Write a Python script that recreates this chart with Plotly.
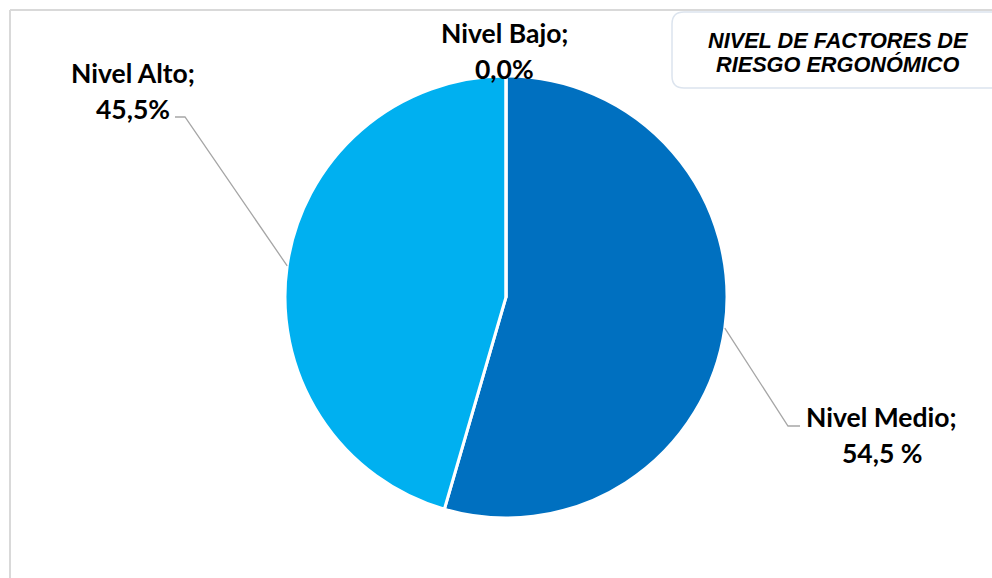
import math
import plotly.graph_objects as go

categories = ["Nivel Medio", "Nivel Alto", "Nivel Bajo"]
values = [54.5, 45.5, 0.0]
value_labels = ["54,5 %", "45,5%", "0,0%"]
colors = ["#0070C0", "#00B0F0", "#A5A5A5"]
title_lines = ["NIVEL DE FACTORES DE", "RIESGO ERGONÓMICO"]

W, H = 992, 578
cx, cy, R = 506, 297, 221  # pie geometry in page pixels

def fx(x):
    return x / W

def fy(y):
    return 1 - y / H

fig = go.Figure(go.Pie(
    labels=categories, values=values, sort=False, direction="clockwise",
    rotation=0, textinfo="none", hoverinfo="label+percent",
    marker=dict(colors=colors, line=dict(color="white", width=3)),
    domain=dict(x=[fx(cx - R), fx(cx + R)], y=[fy(cy + R), fy(cy - R)]),
    showlegend=False,
))

# Leader line start points at slice mid angles (derived from values)
total = sum(values)
cum = 0
mids = []
for v in values:
    mids.append((cum + v / 2) / total * 2 * math.pi)
    cum += v

def edge(theta):
    return cx + R * math.sin(theta), cy - R * math.cos(theta)

shapes = []
layout_pos = {
    "Nivel Medio": dict(l1=(881, 417), l2=(882, 453), elbow=(788, 426), end=(800, 426)),
    "Nivel Alto": dict(l1=(133, 73), l2=(133, 109), elbow=(185, 117), end=(175, 117)),
    "Nivel Bajo": dict(l1=(505, 33), l2=(504, 69), elbow=None, end=None),
}
annotations = []
font = dict(family="Lato, Carlito, sans-serif", size=26.5, color="black")
for cat, vl, th in zip(categories, value_labels, mids):
    p = layout_pos[cat]
    if p["elbow"] is not None:
        sx, sy = edge(th)
        shapes.append(dict(type="path", xref="x", yref="y",
                           path=f"M {sx},{sy} L {p['elbow'][0]},{p['elbow'][1]} L {p['end'][0]},{p['end'][1]}",
                           line=dict(color="#A6A6A6", width=1.3)))
    annotations.append(dict(x=p["l1"][0], y=p["l1"][1], xref="x", yref="y",
                            text=f"<b>{cat};</b>", showarrow=False, font=font,
                            xanchor="center", yanchor="middle"))
    annotations.append(dict(x=p["l2"][0], y=p["l2"][1], xref="x", yref="y",
                            text=f"<b>{vl}</b>", showarrow=False, font=font,
                            xanchor="center", yanchor="middle"))

# frame lines
shapes.append(dict(type="line", xref="x", yref="y", x0=10, y0=10, x1=10, y1=H + 5,
                   line=dict(color="#D9D9D9", width=2)))
shapes.append(dict(type="line", xref="x", yref="y", x0=10, y0=10, x1=W + 5, y1=10,
                   line=dict(color="#D9D9D9", width=2)))

# title box (rounded)
x0, x1, y0, y1, r = 672, 1010, 12, 88, 12
path = (f"M {x0 + r},{y0} L {x1},{y0} L {x1},{y1} L {x0 + r},{y1} "
        f"Q {x0},{y1} {x0},{y1 - r} L {x0},{y0 + r} Q {x0},{y0} {x0 + r},{y0} Z")
shapes.append(dict(type="path", xref="x", yref="y", path=path,
                   line=dict(color="#DCE4EE", width=1.5), fillcolor="white", layer="below"))
tfont = dict(family="Liberation Sans, Arial, sans-serif", size=21.7, color="black")
for i, t in enumerate(title_lines):
    annotations.append(dict(x=838, y=40 + 24 * i, xref="x", yref="y",
                            text=f"<b><i>{t}</i></b>", showarrow=False, font=tfont,
                            xanchor="center", yanchor="middle"))

fig.update_layout(
    width=W, height=H, margin=dict(l=0, r=0, t=0, b=0),
    paper_bgcolor="white", plot_bgcolor="white",
    shapes=shapes, annotations=annotations,
    xaxis=dict(range=[0, W], visible=False, fixedrange=True),
    yaxis=dict(range=[H, 0], visible=False, fixedrange=True),
)
fig.write_html("out.html", config={"displayModeBar": False},
               post_script="document.body.style.margin='0';document.body.style.overflow='hidden';")
